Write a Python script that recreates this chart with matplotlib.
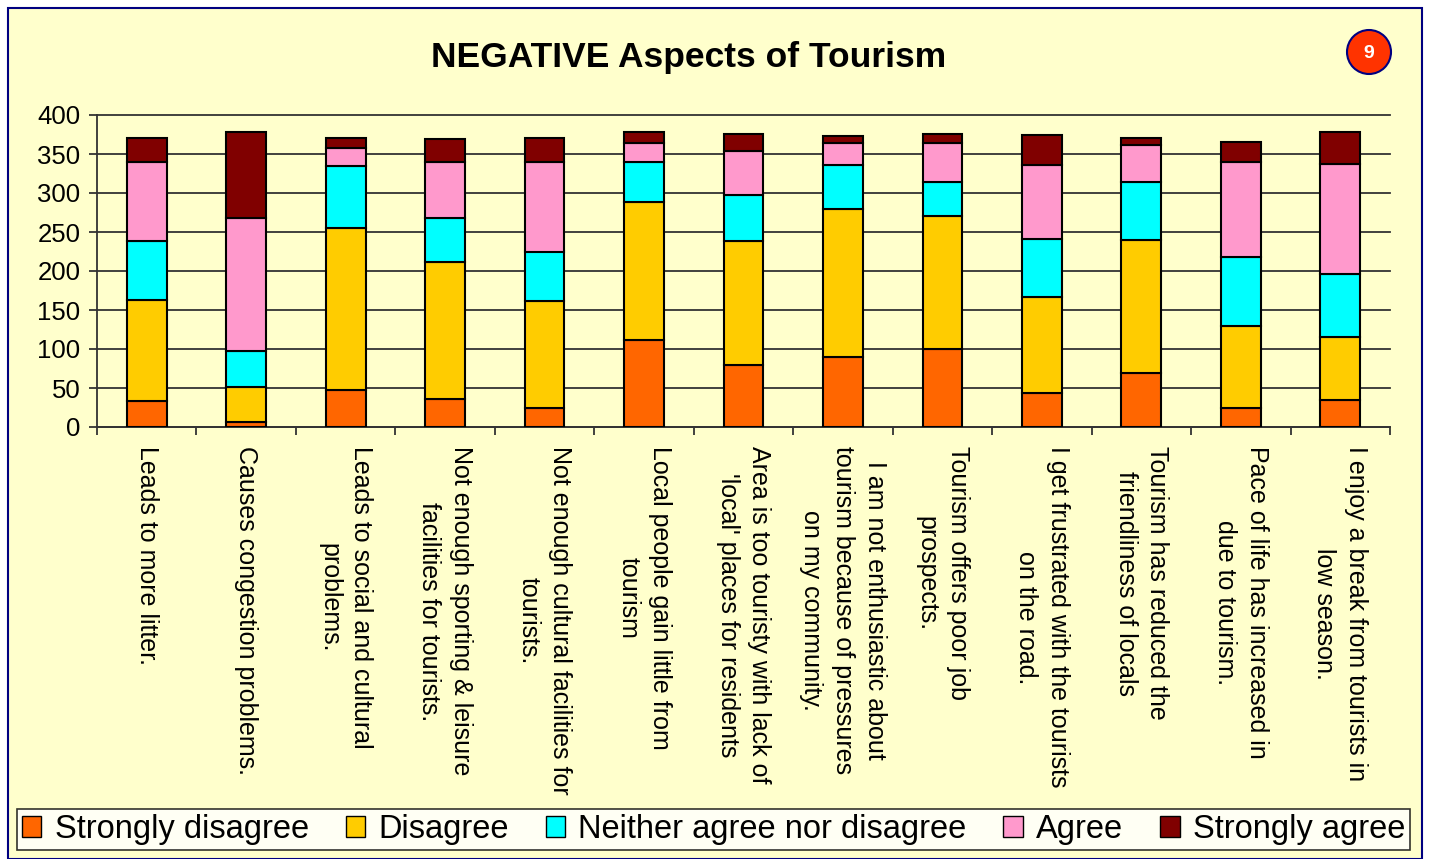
import matplotlib
matplotlib.use("Agg")
import numpy as np
from matplotlib import pyplot as plt
from matplotlib.patches import Patch, Rectangle, Ellipse

plt.rcParams['font.family'] = ['Liberation Sans', 'DejaVu Sans']

statements = [
    "Leads to more litter.",
    "Causes congestion problems.",
    "Leads to social and cultural\nproblems.",
    "Not enough sporting & leisure\nfacilities for tourists.",
    "Not enough cultural facilities for\ntourists.",
    "Local people gain little from\ntourism",
    "Area is too touristy with lack of\n'local' places for residents",
    "I am not enthusiastic about\ntourism because of pressures\non my community.",
    "Tourism offers poor job\nprospects.",
    "I get frustrated with the tourists\non the road.",
    "Tourism has reduced the\nfriendliness of locals",
    "Pace of life has increased in\ndue to tourism.",
    "I enjoy a break from tourists in\nlow season.",
]

strongly_disagree = [33, 6, 48, 36, 25, 112, 80, 90, 100, 43, 69, 25, 34]
disagree = [130, 45, 207, 176, 136, 176, 158, 189, 171, 124, 171, 104, 81]
neither = [75, 46, 79, 56, 64, 52, 60, 57, 43, 74, 74, 89, 81]
agree = [102, 171, 24, 72, 115, 24, 56, 28, 50, 95, 48, 122, 141]
strongly_agree = [31, 110, 13, 29, 31, 14, 22, 9, 11, 39, 8, 25, 41]

series_names = ["Strongly disagree", "Disagree", "Neither agree nor disagree",
                "Agree", "Strongly agree"]
series_colors = ["#FF6600", "#FFCC00", "#00FFFF", "#FF99CC", "#800000"]

W, H = 1431, 859
fig = plt.figure(figsize=(W / 100, H / 100), dpi=100)
fig.patch.set_facecolor("white")

# yellow panel with blue border
fig.patches.append(Rectangle((8 / W, 0), (1422 - 8) / W, (H - 8) / H,
                             transform=fig.transFigure, facecolor="#FFFFCC",
                             edgecolor="#000080", linewidth=1.5, zorder=-10))

ax = fig.add_axes([97 / W, 1 - 427 / H, (1390 - 97) / W, (427 - 115) / H])
ax.patch.set_alpha(0)

x = np.arange(len(statements))
bottom = np.zeros(len(statements))
for vals, name, col in zip([strongly_disagree, disagree, neither, agree, strongly_agree],
                           series_names, series_colors):
    ax.bar(x, vals, bottom=bottom, width=0.4, color=col, edgecolor="black",
           linewidth=1.5, label=name, zorder=3)
    bottom += np.array(vals)

ax.set_xlim(-0.5, len(statements) - 0.5)
ax.set_ylim(0, 400)
ax.set_yticks(range(0, 401, 50))
ax.yaxis.grid(True, color="#333333", linewidth=1.3, zorder=1, clip_on=False)
ax.set_axisbelow(True)

ax.set_xticks(x)
ax.set_xticklabels(statements, rotation=270, ha="center", va="top",
                   multialignment="center", fontsize=18, linespacing=1.4)
ax.set_xticks(np.arange(-0.5, len(statements), 1), minor=True)
ax.tick_params(axis="x", which="major", length=0, pad=14)
ax.tick_params(axis="x", which="minor", length=6, width=1.3, color="#333333")
ax.tick_params(axis="y", length=6, width=1.3, color="#333333", labelsize=18.5, pad=6)

for s in ["top", "right"]:
    ax.spines[s].set_visible(False)
for s in ["left", "bottom"]:
    ax.spines[s].set_color("#333333")
    ax.spines[s].set_linewidth(1.3)

fig.text(689 / W, 1 - 58 / H, "NEGATIVE Aspects of Tourism", fontsize=25.5,
         fontweight="bold", ha="center", va="center")

# page badge
fig.patches.append(Ellipse((1369 / W, 1 - 52 / H), 44 / W, 44 / H, transform=fig.transFigure,
                           facecolor="#FF3300", edgecolor="#000080", linewidth=1.5))
fig.text(1369 / W, 1 - 54 / H, "9", color="white", fontsize=14, fontweight="bold",
         ha="center", va="center")

handles = [Patch(facecolor=c, edgecolor="black", linewidth=1.0) for c in series_colors]
leg = fig.legend(handles, series_names, loc="lower left", ncol=5, mode="expand",
                 bbox_to_anchor=(17 / W, 1 - 850 / H, (1410 - 17) / W, 43 / H),
                 fontsize=23.5, frameon=True, fancybox=False, handlelength=0.6,
                 handleheight=0.6, handletextpad=0.4, borderpad=0.15,
                 columnspacing=1.0, borderaxespad=0)
leg.get_frame().set_edgecolor("black")
leg.get_frame().set_linewidth(1.2)
leg.get_frame().set_facecolor("white")

fig.savefig("out.png", dpi=100, facecolor=fig.get_facecolor())
